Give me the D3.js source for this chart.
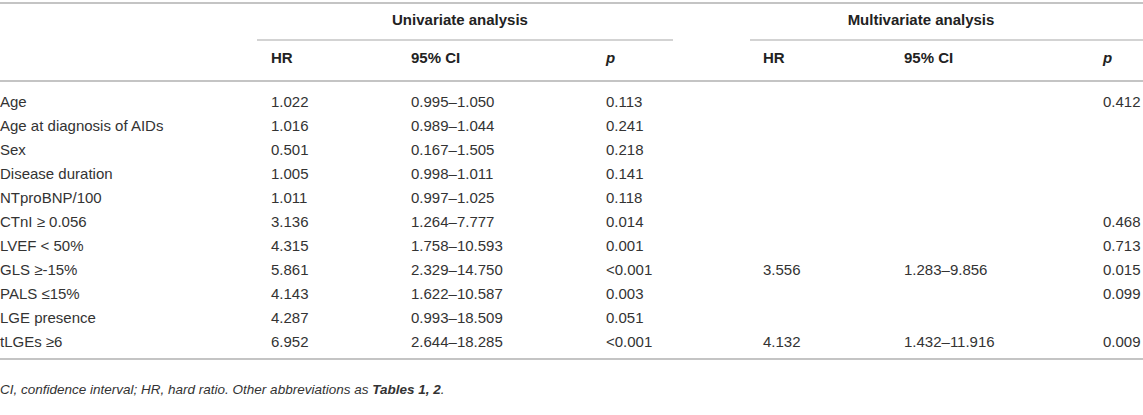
<!DOCTYPE html>
<html>
<head>
<meta charset="utf-8">
<script src="https://cdn.jsdelivr.net/npm/d3@7"></script>
<style>
  html, body { margin: 0; padding: 0; background: #fff; }
  svg { display: block; font-family: "Liberation Sans", Arial, Helvetica, sans-serif; }
</style>
</head>
<body>
<svg id="chart" width="1143" height="415"></svg>
<script>
// ---- data ----
const variables = ["Age", "Age at diagnosis of AIDs", "Sex", "Disease duration", "NTproBNP/100",
  "CTnI \u2265 0.056", "LVEF < 50%", "GLS \u2265-15%", "PALS \u226415%", "LGE presence", "tLGEs \u22656"];
const uniHR = ["1.022", "1.016", "0.501", "1.005", "1.011", "3.136", "4.315", "5.861", "4.143", "4.287", "6.952"];
const uniCI = ["0.995\u20131.050", "0.989\u20131.044", "0.167\u20131.505", "0.998\u20131.011", "0.997\u20131.025",
  "1.264\u20137.777", "1.758\u201310.593", "2.329\u201314.750", "1.622\u201310.587", "0.993\u201318.509", "2.644\u201318.285"];
const uniP = ["0.113", "0.241", "0.218", "0.141", "0.118", "0.014", "0.001", "<0.001", "0.003", "0.051", "<0.001"];
const multiHR = ["", "", "", "", "", "", "", "3.556", "", "", "4.132"];
const multiCI = ["", "", "", "", "", "", "", "1.283\u20139.856", "", "", "1.432\u201311.916"];
const multiP = ["0.412", "", "", "", "", "0.468", "0.713", "0.015", "0.099", "", "0.009"];
const groups = ["Univariate analysis", "Multivariate analysis"];
const subHeaders = ["HR", "95% CI", "p", "HR", "95% CI", "p"];
const footnote = ["CI, confidence interval; HR, hard ratio. Other abbreviations as ", "Tables 1, 2", "."];

// ---- layout ----
const W = 1143;
const svg = d3.select("#chart");
const colKeys = ["label", "uHR", "uCI", "uP", "mHR", "mCI", "mP"];
const colX = d3.scaleOrdinal().domain(colKeys).range([0, 271, 411, 606, 763, 904, 1103]);
const rowY = d3.scaleBand().domain(d3.range(variables.length)).range([90, 354]);
const lineColor = "#c4c4c4";
const textColor = "#333";
const fs = 15;

function hline(x1, x2, y, w) {
  svg.append("line").attr("x1", x1).attr("x2", x2).attr("y1", y).attr("y2", y)
    .attr("stroke", lineColor).attr("stroke-width", w || 2);
}

hline(0, W, 3);
// group headers
const groupSpans = [[257, 673, 460], [750, W, 921]];
groups.forEach((g, i) => {
  svg.append("text").attr("x", groupSpans[i][2]).attr("y", 25)
    .attr("text-anchor", "middle").attr("font-weight", "bold").attr("font-size", fs)
    .attr("fill", "#222").text(g);
  hline(groupSpans[i][0], groupSpans[i][1], 40, 1.5);
});
// sub headers
subHeaders.forEach((h, i) => {
  svg.append("text").attr("x", colX(colKeys[i + 1])).attr("y", 63)
    .attr("font-weight", "bold").attr("font-size", fs).attr("fill", "#222")
    .attr("font-style", h === "p" ? "italic" : null).text(h);
});
hline(0, W, 81);

// body
const cols = [["label", variables], ["uHR", uniHR], ["uCI", uniCI], ["uP", uniP],
  ["mHR", multiHR], ["mCI", multiCI], ["mP", multiP]];
cols.forEach(([key, arr]) => {
  svg.append("g").selectAll("text").data(arr).join("text")
    .attr("x", colX(key))
    .attr("y", (d, i) => rowY(i) + rowY.bandwidth() / 2)
    .attr("dy", "0.35em")
    .attr("font-size", fs).attr("fill", textColor)
    .text(d => d);
});
hline(0, W, 359);

// footnote
const fn = svg.append("text").attr("x", 0).attr("y", 394).attr("font-size", 13.5)
  .attr("font-style", "italic").attr("fill", textColor);
footnote.forEach((t, i) => {
  fn.append("tspan").attr("font-weight", i === 1 ? "bold" : null).text(t);
});
</script>
</body>
</html>
